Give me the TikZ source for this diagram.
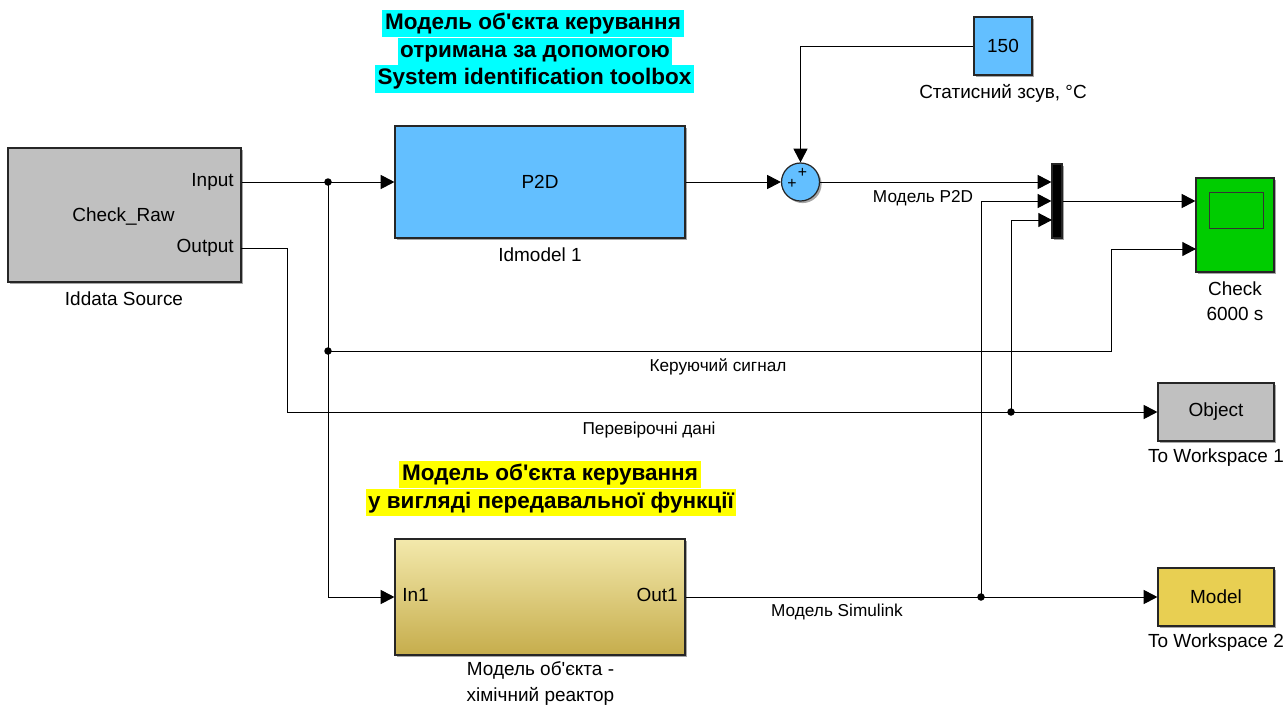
\documentclass[tikz,border=0pt]{standalone}
\usepackage{fontspec}
\setmainfont{Liberation Sans}[Ligatures=TeXOff]
\usepackage{tikz}
\usetikzlibrary{arrows.meta, shadows}
\definecolor{blkgray}{HTML}{C0C0C0}
\definecolor{blkblue}{HTML}{63BFFF}
\definecolor{blkgreen}{HTML}{00CC00}
\definecolor{blkyellow}{HTML}{E8CF52}
\definecolor{subtop}{HTML}{F3E9AC}
\definecolor{subbot}{HTML}{C6AD4C}
\definecolor{notecyan}{HTML}{00FFFF}
\definecolor{noteyellow}{HTML}{FFFF00}
\newcommand{\blkfont}{\fontsize{10.8}{12.9}\selectfont}
\newcommand{\sigfont}{\fontsize{9.8}{11.8}\selectfont}
\newcommand{\notefont}{\fontsize{12.8}{15}\selectfont\bfseries}
\tikzstyle{block} = [rectangle, 
draw=black!85, 
line width=0.7pt, 
inner sep=0pt, 
font=\blkfont, 
drop shadow={shadow xshift=1.2pt, shadow yshift=-1.2pt, opacity=0.35, fill=black}]
\tikzstyle{txt} = [inner sep=0pt, font=\blkfont]
\tikzstyle{sig} = [inner sep=0pt, font=\sigfont]
\tikzstyle{note} = [inner xsep=1.5pt, 
inner ysep=0pt, 
minimum height=0.55cm, 
text height=9.5pt, 
text depth=3pt, 
font=\notefont]
\tikzstyle{arrow} = [line width=0.55pt, -{Triangle[length=7.8pt, width=8pt]}]

\begin{document}
\begin{tikzpicture}[x=0.02cm, y=-0.02cm]
    \useasboundingbox (0,0) rectangle (1285,707);
    % notes
    \node (notea1) [note, fill=notecyan] at (533,23.5) {Модель об'єкта керування\ };
    \node (notea2) [note, fill=notecyan] at (535,51.5) {отримана за допомогою};
    \node (notea3) [note, fill=notecyan] at (534.5,79) {System identification toolbox};
    \node (noteb1) [note, fill=noteyellow] at (550,474.5) {Модель об'єкта керування\ };
    \node (noteb2) [note, fill=noteyellow] at (551,502.5) {у вигляді передавальної функції};

    % blocks
    \node (src) [block, fill=blkgray, minimum width=4.66cm, minimum height=2.68cm] at (124.5,215) {};
    \node (srcname) [txt] at (123.5,217) {Check\_Raw};
    \node (srcin) [txt, anchor=mid east] at (234,182) {Input};
    \node (srcout) [txt, anchor=mid east] at (234,248) {Output};
    \node (srclbl) [txt] at (124,299) {Iddata Source};

    \node (p2d) [block, fill=blkblue, minimum width=5.8cm, minimum height=2.24cm] at (540,182) {P2D};
    \node (p2dlbl) [txt] at (540,255) {Idmodel 1};

    \node (sum) [block, circle, fill=blkblue, minimum size=0.76cm] at (800.5,182) {};
    \node (plusa) [inner sep=0pt, font=\fontsize{9}{10}\selectfont] at (802.5,173) {+};
    \node (plusb) [inner sep=0pt, font=\fontsize{9}{10}\selectfont] at (792,184) {+};

    \node (const) [block, fill=blkblue, minimum width=1.16cm, minimum height=1.16cm] at (1003,46) {150};
    \node (constlbl) [txt] at (1003,93) {Статисний зсув, °C};

    \node (mux) [block, fill=black, minimum width=0.2cm, minimum height=1.48cm] at (1057,201) {};

    \node (scope) [block, fill=blkgreen, minimum width=1.56cm, minimum height=1.88cm] at (1235,225) {};
    \node (screen) [rectangle, draw=black!80, line width=0.5pt, fill=blkgreen, minimum width=1.08cm, minimum height=0.72cm] at (1236,210) {};
    \node (scopelbl) [txt, align=center] at (1235,301.5) {Check\\[1.5pt]6000 s};

    \node (obj) [block, fill=blkgray, minimum width=2.32cm, minimum height=1.16cm] at (1216,412) {Object};
    \node (objlbl) [txt] at (1216,458) {To Workspace 1};

    \node (mdl) [block, fill=blkyellow, minimum width=2.32cm, minimum height=1.16cm] at (1216,597) {Model};
    \node (mdllbl) [txt] at (1216,643) {To Workspace 2};

    \node (sub) [block, top color=subtop, bottom color=subbot, minimum width=5.8cm, minimum height=2.32cm] at (540,597) {};
    \node (subin) [txt, anchor=mid west] at (402,597) {In1};
    \node (subout) [txt, anchor=mid east] at (678,597) {Out1};
    \node (sublbl) [txt, align=center] at (540.5,683.5) {Модель об'єкта -\\[1.5pt]хімічний реактор};

    % signal labels
    \node (lblp2d) [sig] at (923,198) {Модель P2D};
    \node (lblctl) [sig] at (718,367) {Керуючий сигнал};
    \node (lblchk) [sig] at (649,430) {Перевірочні дані};
    \node (lblsim) [sig] at (837,612) {Модель Simulink};

    % branch points
    \coordinate (jin) at (328,182);
    \coordinate (jctl) at (328,351);
    \coordinate (ctlbend) at (1111,351);
    \coordinate (scopein2) at (1196,249);
    \coordinate (outport) at (241,248);
    \coordinate (outbend) at (287,248);
    \coordinate (jobj) at (1011,412);
    \coordinate (muxin3) at (1052,220);
    \coordinate (jsim) at (981,597);

    % connectors
    \draw [arrow] (src.east |- p2d.west) -- (p2d.west);
    \draw [arrow] (jin) |- (sub.west);
    \draw [arrow] (jctl) -- (ctlbend) |- (scopein2);
    \draw [arrow] (outport) -- (outbend) |- (obj.west);
    \draw [arrow] (jobj) |- (muxin3);
    \draw [arrow] (p2d.east) -- (sum.west);
    \draw [arrow] (const.west) -| (sum.north);
    \draw [arrow] (sum.east) -- (sum.east -| mux.west);
    \draw [arrow] (mux.east) -- (mux.east -| scope.west);
    \draw [arrow] (sub.east) -- (mdl.west);
    \draw [arrow] (jsim) |- (mux.west);
    \fill (jin) circle (0.075cm);
    \fill (jctl) circle (0.075cm);
    \fill (jobj) circle (0.075cm);
    \fill (jsim) circle (0.075cm);
\end{tikzpicture}
\end{document}
